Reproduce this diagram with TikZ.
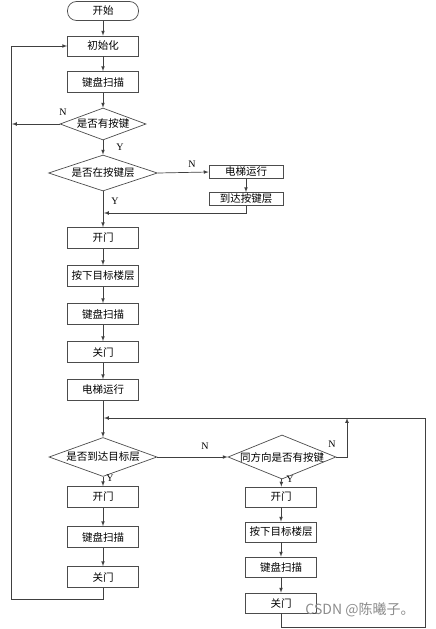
\documentclass[tikz,border=0pt]{standalone}
\usepackage{fontspec}
\setmainfont{Liberation Serif}
\newfontfamily\cjk{Noto Sans CJK SC}
\usetikzlibrary{arrows,shapes.geometric}

\begin{document}
\begin{tikzpicture}[x=1pt, y=-1pt, >=latex, line width=0.7pt, draw=black!75,
	box/.style={draw=black!70, fill=white, minimum width=71pt, minimum height=21pt, inner sep=0pt, font=\cjk\fontsize{10.5}{12}\selectfont},
	decision/.style={diamond, draw=black!70, fill=white, inner sep=0pt, font=\cjk\fontsize{10.5}{12}\selectfont},
	lbl/.style={font=\fontsize{10}{12}\selectfont}]
			\useasboundingbox (0, 0) rectangle (436, 629);

			\node [box, rounded corners=9pt, minimum height=19pt] (start) at (103, 11) {开始};
			\node [box, minimum height=20pt] (init) at (103, 46) {初始化};
			\node [box] (scanA) at (103, 82) {键盘扫描};
			\node [decision, minimum width=86pt, minimum height=32pt, aspect=2.69] (haskey) at (103, 124) {是否有按键};
			\node [decision, minimum width=109pt, minimum height=36pt, aspect=3.03] (atfloor) at (103, 173) {是否在按键层};
			\node [box, minimum width=74pt, minimum height=13pt] (runA) at (246, 172) {电梯运行};
			\node [box, minimum width=74pt, minimum height=13pt] (arrive) at (246, 199) {到达按键层};
			\node [box] (openA) at (103, 238) {开门};
			\node [box] (press) at (103, 276) {按下目标楼层};
			\node [box] (scanB) at (103, 314) {键盘扫描};
			\node [box] (closeA) at (103, 352) {关门};
			\node [box] (runB) at (103, 390) {电梯运行};
			\node [decision, minimum width=108pt, minimum height=39pt, aspect=2.77] (target) at (103, 457) {是否到达目标层};
			\node [decision, minimum width=108pt, minimum height=44pt, aspect=2.45] (samedir) at (282, 457) {同方向是否有按键};
			\node [box] (openB) at (103, 497) {开门};
			\node [box] (scanC) at (103, 537) {键盘扫描};
			\node [box] (closeB) at (103, 577) {关门};
			\node [box, minimum height=20pt] (openC) at (281, 497) {开门};
			\node [box, minimum height=20pt] (pressC) at (281, 532) {按下目标楼层};
			\node [box, minimum height=20pt] (scanD) at (281, 567) {键盘扫描};
			\node [box, minimum height=20pt] (closeC) at (281, 603) {关门};

			\node [lbl] (n1) at (63, 112) {N};
			\node [lbl] (y1) at (120, 147) {Y};
			\node [lbl] (n2) at (192, 164) {N};
			\node [lbl] (y2) at (115, 201) {Y};
			\node [lbl] (n3) at (205, 446) {N};
			\node [lbl] (y3) at (110, 478) {Y};
			\node [lbl] (n4) at (332, 444) {N};
			\node [lbl] (y4) at (290, 479) {Y};

			\coordinate (leftN) at (12, 124);
			\coordinate (joinA) at (104, 213);
			\coordinate (joinB) at (104, 418);
			\coordinate (upN) at (347, 418);
			\coordinate (cornerL) at (11, 599);
			\coordinate (cornerR) at (425, 627);

			\draw [->] (start) to (init);
			\draw [->] (init) to (scanA);
			\draw [->] (scanA) to (haskey);
			\draw [->] (haskey) to (atfloor);
			\draw [->] (haskey.west) to (leftN);
			\draw [->] (atfloor.east) to (runA.west);
			\draw [->] (runA) to (arrive);
			\draw [->] (arrive.south) |- (joinA);
			\draw [->] (atfloor) to (openA);
			\draw [->] (openA) to (press);
			\draw [->] (press) to (scanB);
			\draw [->] (scanB) to (closeA);
			\draw [->] (closeA) to (runB);
			\draw [->] (runB) to (target);
			\draw [->] (target.east) to (samedir.west);
			\draw [->] (samedir.east) -| (upN);
			\draw [->] (target) to (openB);
			\draw [->] (openB) to (scanC);
			\draw [->] (scanC) to (closeB);
			\draw [->] (closeB.south) |- (cornerL) |- (init.west);
			\draw [->] (samedir) to (openC);
			\draw [->] (openC) to (pressC);
			\draw [->] (pressC) to (scanD);
			\draw [->] (scanD) to (closeC);
			\draw [->] (closeC.south) |- (cornerR) |- (joinB);

			\node [text=black!45, font=\cjk\fontsize{14}{16}\selectfont] (mark) at (360, 610) {CSDN @陈曦子。};
		\end{tikzpicture}
\end{document}
